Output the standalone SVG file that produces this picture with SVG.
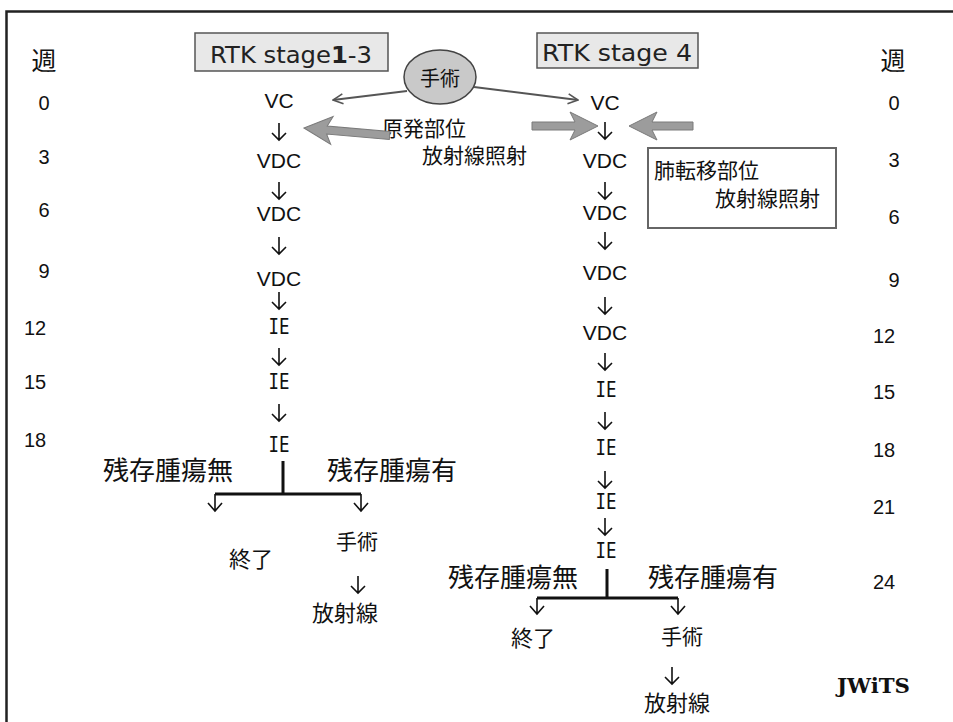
<svg xmlns="http://www.w3.org/2000/svg" xmlns:xlink="http://www.w3.org/1999/xlink" width="953" height="722" viewBox="0 0 953 722">
<style>
.jp{font-family:"Noto Sans CJK JP","Noto Sans",sans-serif;fill:#111}
.lt{font-family:"Liberation Sans",Arial,sans-serif;fill:#111}
.ie{font-family:"DejaVu Sans Mono",monospace;fill:#111}
.gth{font-family:"DejaVu Sans","Liberation Sans",sans-serif;fill:#222}
.num{font-family:"Liberation Sans",Arial,sans-serif;font-size:20px;fill:#111}
.c{text-anchor:middle}
.dn{fill:none;stroke:#111;stroke-width:1.6}
.br{fill:none;stroke:#111;stroke-width:3}
.thin{fill:none;stroke:#555;stroke-width:2}
.blk{fill:#9c9c9c;stroke:#7a7a7a;stroke-width:1}
</style>
<defs>
<path id="dn" d="M0,-9 V8 M-7,1 L0,8 L7,1"/>
<marker id="ah" viewBox="0 0 12 12" refX="11" refY="6" markerWidth="12" markerHeight="12" markerUnits="userSpaceOnUse" orient="auto">
<path d="M1,1 L11,6 L1,11" fill="none" stroke="#555" stroke-width="1.6"/>
</marker>
</defs>
<rect width="953" height="722" fill="#fff"/>
<path d="M6.5,722 V11.5 H953" fill="none" stroke="#222" stroke-width="2.5"/>

<g id="axis-left">
<text class="jp c" x="44" y="70" font-size="25">週</text>
<text class="num c" x="44" y="110">0</text>
<text class="num c" x="44" y="164">3</text>
<text class="num c" x="44" y="217">6</text>
<text class="num c" x="44" y="278">9</text>
<text class="num c" x="35" y="335">12</text>
<text class="num c" x="35" y="389">15</text>
<text class="num c" x="35" y="447">18</text>
</g>
<g id="axis-right">
<text class="jp c" x="893" y="70" font-size="25">週</text>
<text class="num c" x="894" y="110">0</text>
<text class="num c" x="894" y="167">3</text>
<text class="num c" x="894" y="224">6</text>
<text class="num c" x="894" y="287">9</text>
<text class="num c" x="884" y="343">12</text>
<text class="num c" x="884" y="399">15</text>
<text class="num c" x="884" y="457">18</text>
<text class="num c" x="884" y="514">21</text>
<text class="num c" x="884" y="589">24</text>
</g>

<g id="stage13">
<rect x="195" y="33" width="193" height="38" fill="#e8e8e8" stroke="#555" stroke-width="1.5"/>
<text class="gth c" x="291" y="63" font-size="23" textLength="162" lengthAdjust="spacingAndGlyphs">RTK stage<tspan font-weight="bold">1</tspan>-3</text>
</g>
<g id="stage4">
<rect x="537" y="33" width="161" height="35" fill="#e8e8e8" stroke="#555" stroke-width="1.5"/>
<text class="gth c" x="617" y="61" font-size="23" textLength="150" lengthAdjust="spacingAndGlyphs">RTK stage 4</text>
</g>
<g id="surgery-top">
<ellipse cx="440" cy="77" rx="36" ry="27" fill="#c9c9c9" stroke="#444" stroke-width="1.5"/>
<text class="jp c" x="440" y="86" font-size="20">手術</text>
</g>
<g id="primary-rt">
<text class="jp" x="382" y="136" font-size="21">原発部位</text>
<text class="jp" x="422" y="163" font-size="21">放射線照射</text>
</g>
<g id="lung-rt">
<rect x="648" y="148" width="188" height="80" fill="#fff" stroke="#666" stroke-width="2"/>
<text class="jp" x="654" y="178" font-size="21">肺転移部位</text>
<text class="jp" x="820" y="206" font-size="21" text-anchor="end">放射線照射</text>
</g>

<g id="left-column">
<text class="lt c" x="279" y="108" font-size="21">VC</text>
<text class="lt c" x="279" y="168" font-size="21">VDC</text>
<text class="lt c" x="279" y="221" font-size="21">VDC</text>
<text class="lt c" x="279" y="286" font-size="21">VDC</text>
<text class="ie c" x="279" y="334" font-size="21" textLength="21" lengthAdjust="spacingAndGlyphs">IE</text>
<text class="ie c" x="279" y="389" font-size="21" textLength="21" lengthAdjust="spacingAndGlyphs">IE</text>
<text class="ie c" x="279" y="452" font-size="21" textLength="21" lengthAdjust="spacingAndGlyphs">IE</text>
</g>
<g id="right-column">
<text class="lt c" x="605" y="110" font-size="21">VC</text>
<text class="lt c" x="605" y="168" font-size="21">VDC</text>
<text class="lt c" x="605" y="220" font-size="21">VDC</text>
<text class="lt c" x="605" y="280" font-size="21">VDC</text>
<text class="lt c" x="605" y="340" font-size="21">VDC</text>
<text class="ie c" x="606" y="397" font-size="21" textLength="21" lengthAdjust="spacingAndGlyphs">IE</text>
<text class="ie c" x="606" y="455" font-size="21" textLength="21" lengthAdjust="spacingAndGlyphs">IE</text>
<text class="ie c" x="606" y="509" font-size="21" textLength="21" lengthAdjust="spacingAndGlyphs">IE</text>
<text class="ie c" x="606" y="558" font-size="21" textLength="21" lengthAdjust="spacingAndGlyphs">IE</text>
</g>

<g id="left-outcome">
<text class="jp" x="103" y="480" font-size="26">残存腫瘍無</text>
<text class="jp" x="327" y="480" font-size="26">残存腫瘍有</text>
<text class="jp c" x="251" y="567" font-size="22">終了</text>
<text class="jp c" x="357" y="549" font-size="21">手術</text>
<text class="jp c" x="345" y="621" font-size="22">放射線</text>
</g>
<g id="right-outcome">
<text class="jp" x="448" y="587" font-size="26">残存腫瘍無</text>
<text class="jp" x="648" y="587" font-size="26">残存腫瘍有</text>
<text class="jp c" x="533" y="646" font-size="22">終了</text>
<text class="jp c" x="682" y="644" font-size="21">手術</text>
<text class="jp c" x="677" y="711" font-size="22">放射線</text>
</g>
<g id="credit">
<text x="837" y="693" font-family="'DejaVu Serif',serif" font-weight="bold" font-size="20" textLength="73" lengthAdjust="spacingAndGlyphs" fill="#111">JWiTS</text>
</g>

<g id="connectors">
<line class="thin" x1="407" y1="91" x2="333" y2="100" marker-end="url(#ah)"/>
<line class="thin" x1="474" y1="87" x2="578" y2="100" marker-end="url(#ah)"/>
<polygon class="blk" transform="rotate(5 304 128)" points="304,128 332,114 327,124 390,124 390,132 327,132 332,142"/>
<polygon class="blk" points="598,126 570,112 575,122 532,122 532,130 575,130 570,140"/>
<polygon class="blk" points="629,126 657,112 652,122 693,122 693,130 652,130 657,140"/>
<g class="dn">
<use xlink:href="#dn" x="279" y="132"/>
<use xlink:href="#dn" x="279" y="191"/>
<use xlink:href="#dn" x="279" y="246"/>
<use xlink:href="#dn" x="279" y="301"/>
<use xlink:href="#dn" x="279" y="357"/>
<use xlink:href="#dn" x="279" y="413"/>
<use xlink:href="#dn" x="605" y="131"/>
<use xlink:href="#dn" x="605" y="191"/>
<use xlink:href="#dn" x="605" y="241"/>
<use xlink:href="#dn" x="605" y="306"/>
<use xlink:href="#dn" x="605" y="362"/>
<use xlink:href="#dn" x="605" y="421"/>
<use xlink:href="#dn" x="605" y="480"/>
<use xlink:href="#dn" x="605" y="527"/>
<use xlink:href="#dn" x="358" y="585"/>
<use xlink:href="#dn" x="672" y="676"/>
</g>
<path class="br" d="M283,461 V494 M215,494 H361"/>
<path class="dn" d="M215,494 V511 M208,503 L215,511 L222,503 M361,494 V511 M354,503 L361,511 L368,503"/>
<path class="br" d="M607,569 V598 M537,598 H678"/>
<path class="dn" d="M537,598 V614 M530,606 L537,614 L544,606 M678,598 V614 M671,606 L678,614 L685,606"/>
</g>
</svg>
